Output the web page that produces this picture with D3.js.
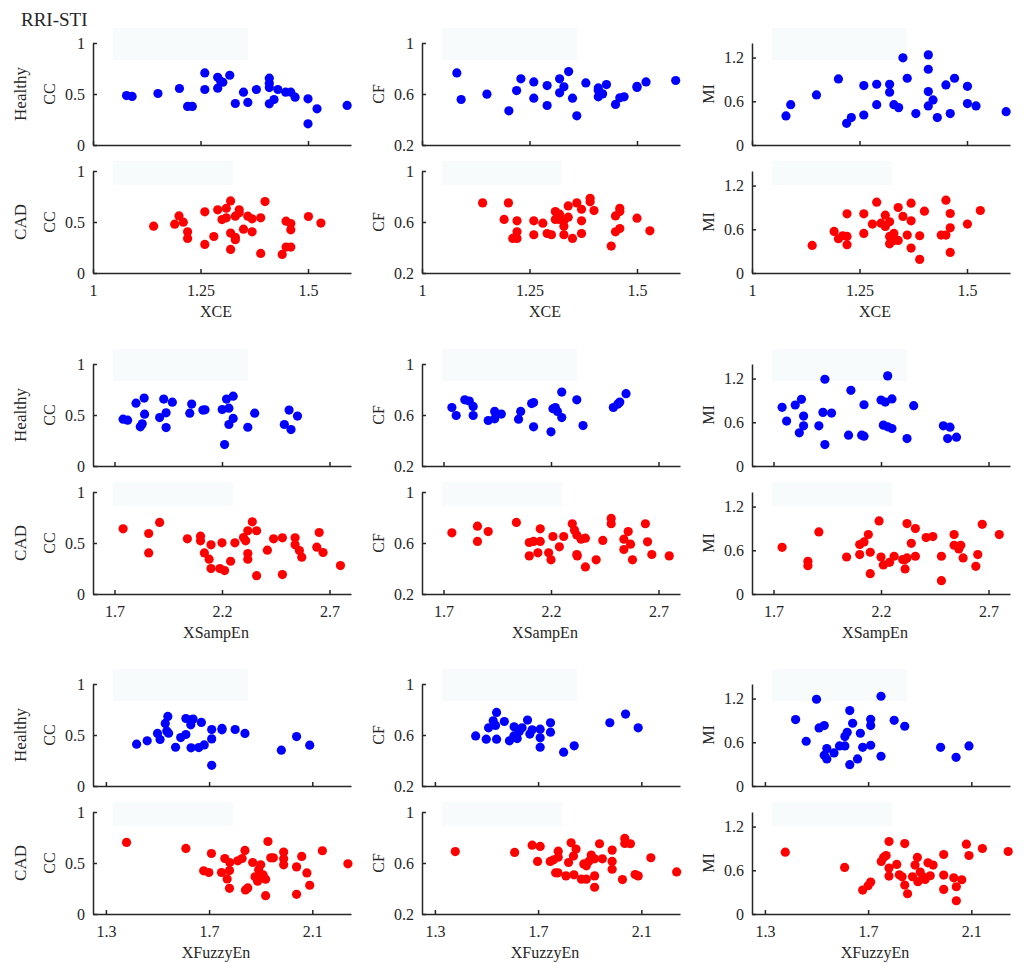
<!DOCTYPE html>
<html>
<head>
<meta charset="utf-8">
<script src="https://d3js.org/d3.v7.min.js"></script>
<style>
  body { margin: 0; background: #fff; }
  text { font-family: "Liberation Serif", "Times New Roman", serif; fill: #262626; }
  .axis path, .axis line { stroke: #262626; stroke-width: 1.5; }
</style>
</head>
<body>
<div id="viz"></div>
<script>
// categories / axis setup
const features = ["XCE", "XSampEn", "XFuzzyEn"];
const metrics = ["CC", "CF", "MI"];
const classes = ["Healthy", "CAD"];
const classColors = ["#0000ff", "#ff0000"];

const featureDomains = [[1, 1.6], [1.6, 2.8], [1.25, 2.25]];
const featureTicks = [[1, 1.25, 1.5], [1.7, 2.2, 2.7], [1.3, 1.7, 2.1]];
const metricDomains = [[0, 1], [0.2, 1], [0, 1.4]];
const metricTicks = [[0, 0.5, 1], [0.2, 0.6, 1], [0, 0.6, 1.2]];

// ---- XCE ----
const xce_cc_healthy = [[1.078,0.485],[1.091,0.476],[1.151,0.505],[1.201,0.554],[1.22,0.378],[1.231,0.378],[1.26,0.707],[1.26,0.544],[1.29,0.664],[1.29,0.557],[1.297,0.625],[1.302,0.615],[1.318,0.684],[1.331,0.407],[1.35,0.518],[1.36,0.417],[1.38,0.544],[1.41,0.655],[1.41,0.606],[1.41,0.563],[1.41,0.404],[1.421,0.446],[1.43,0.544],[1.448,0.518],[1.46,0.518],[1.47,0.469],[1.5,0.453],[1.5,0.208],[1.521,0.355],[1.591,0.388]];
const xce_cc_cad = [[1.141,0.459],[1.19,0.479],[1.2,0.56],[1.21,0.498],[1.22,0.404],[1.22,0.339],[1.26,0.6],[1.26,0.28],[1.281,0.358],[1.29,0.619],[1.3,0.524],[1.31,0.635],[1.31,0.541],[1.32,0.707],[1.32,0.391],[1.32,0.231],[1.331,0.557],[1.331,0.326],[1.331,0.35],[1.34,0.619],[1.34,0.59],[1.35,0.43],[1.36,0.557],[1.37,0.531],[1.37,0.404],[1.39,0.541],[1.39,0.192],[1.4,0.7],[1.44,0.182],[1.449,0.508],[1.449,0.254],[1.46,0.485],[1.46,0.423],[1.46,0.254],[1.501,0.554],[1.53,0.489]];
const xce_cf_healthy = [[1.081,0.765],[1.091,0.557],[1.151,0.599],[1.202,0.468],[1.22,0.627],[1.23,0.719],[1.26,0.695],[1.26,0.567],[1.291,0.666],[1.291,0.51],[1.32,0.719],[1.32,0.609],[1.33,0.656],[1.341,0.776],[1.35,0.567],[1.36,0.429],[1.381,0.687],[1.41,0.648],[1.41,0.63],[1.41,0.578],[1.42,0.601],[1.429,0.674],[1.45,0.518],[1.46,0.57],[1.47,0.578],[1.5,0.651],[1.5,0.66],[1.521,0.695],[1.59,0.706]];
const xce_cf_cad = [[1.141,0.75],[1.191,0.62],[1.201,0.75],[1.211,0.471],[1.221,0.471],[1.221,0.523],[1.221,0.609],[1.26,0.609],[1.26,0.5],[1.281,0.591],[1.291,0.51],[1.301,0.5],[1.31,0.682],[1.31,0.62],[1.32,0.661],[1.32,0.62],[1.33,0.609],[1.33,0.567],[1.33,0.5],[1.34,0.726],[1.34,0.638],[1.35,0.471],[1.36,0.75],[1.371,0.7],[1.371,0.609],[1.371,0.51],[1.391,0.786],[1.391,0.758],[1.4,0.69],[1.44,0.411],[1.45,0.648],[1.45,0.523],[1.46,0.708],[1.46,0.682],[1.46,0.549],[1.5,0.63],[1.53,0.531]];
const xce_mi_healthy = [[1.079,0.399],[1.09,0.554],[1.15,0.687],[1.201,0.907],[1.22,0.298],[1.231,0.376],[1.26,0.815],[1.26,0.412],[1.29,0.834],[1.29,0.554],[1.32,0.834],[1.32,0.724],[1.33,0.554],[1.341,0.513],[1.351,1.196],[1.361,0.916],[1.381,0.431],[1.41,1.237],[1.41,1.04],[1.41,0.733],[1.41,0.536],[1.421,0.618],[1.431,0.376],[1.451,0.825],[1.461,0.431],[1.471,0.916],[1.501,0.806],[1.501,0.568],[1.521,0.536],[1.591,0.458]];
const xce_mi_cad = [[1.14,0.379],[1.191,0.57],[1.201,0.47],[1.211,0.511],[1.221,0.812],[1.221,0.502],[1.221,0.388],[1.26,0.812],[1.26,0.543],[1.28,0.671],[1.29,0.972],[1.3,0.684],[1.31,0.794],[1.31,0.639],[1.32,0.703],[1.32,0.502],[1.32,0.401],[1.33,0.543],[1.33,0.447],[1.34,0.447],[1.34,0.899],[1.351,0.776],[1.361,0.52],[1.37,0.342],[1.37,0.958],[1.37,0.716],[1.39,0.511],[1.39,0.187],[1.401,0.849],[1.44,0.52],[1.451,0.999],[1.451,0.52],[1.461,0.817],[1.461,0.62],[1.461,0.283],[1.501,0.671],[1.531,0.858]];

// ---- XSampEn ----
const xsampen_cc_healthy = [[1.74,0.459],[1.761,0.449],[1.8,0.616],[1.82,0.384],[1.829,0.413],[1.838,0.666],[1.84,0.508],[1.91,0.475],[1.929,0.656],[1.94,0.521],[1.94,0.377],[1.969,0.626],[2.05,0.518],[2.059,0.607],[2.111,0.548],[2.121,0.551],[2.201,0.554],[2.212,0.21],[2.221,0.656],[2.232,0.567],[2.232,0.407],[2.252,0.466],[2.252,0.685],[2.32,0.38],[2.352,0.518],[2.49,0.407],[2.512,0.548],[2.521,0.357],[2.551,0.489]];
const xsampen_cc_cad = [[1.74,0.639],[1.859,0.593],[1.859,0.403],[1.91,0.702],[2.039,0.541],[2.1,0.567],[2.1,0.521],[2.118,0.403],[2.14,0.341],[2.149,0.482],[2.149,0.249],[2.19,0.249],[2.2,0.502],[2.212,0.23],[2.24,0.321],[2.26,0.502],[2.3,0.554],[2.31,0.521],[2.32,0.62],[2.32,0.397],[2.32,0.341],[2.341,0.708],[2.361,0.62],[2.361,0.18],[2.411,0.43],[2.44,0.541],[2.481,0.551],[2.481,0.19],[2.54,0.551],[2.54,0.482],[2.56,0.426],[2.571,0.361],[2.641,0.459],[2.652,0.603],[2.67,0.407],[2.751,0.279]];
const xsampen_cf_healthy = [[1.739,0.659],[1.759,0.596],[1.799,0.719],[1.82,0.709],[1.838,0.667],[1.838,0.596],[1.908,0.557],[1.938,0.628],[1.938,0.57],[1.969,0.607],[2.049,0.567],[2.059,0.628],[2.11,0.69],[2.119,0.698],[2.119,0.507],[2.2,0.468],[2.209,0.649],[2.22,0.659],[2.23,0.628],[2.25,0.78],[2.25,0.58],[2.32,0.719],[2.349,0.517],[2.49,0.659],[2.51,0.685],[2.52,0.701],[2.549,0.767]];
const xsampen_cf_cad = [[1.739,0.68],[1.858,0.732],[1.858,0.612],[1.908,0.69],[2.039,0.761],[2.099,0.604],[2.099,0.499],[2.119,0.612],[2.139,0.523],[2.15,0.612],[2.15,0.711],[2.189,0.523],[2.2,0.468],[2.209,0.651],[2.239,0.57],[2.259,0.651],[2.299,0.751],[2.309,0.701],[2.32,0.662],[2.32,0.51],[2.322,0.499],[2.34,0.63],[2.36,0.638],[2.36,0.412],[2.41,0.468],[2.441,0.62],[2.48,0.793],[2.48,0.751],[2.539,0.63],[2.539,0.549],[2.559,0.69],[2.57,0.591],[2.579,0.468],[2.639,0.751],[2.649,0.609],[2.669,0.51],[2.75,0.499]];
const xsampen_mi_healthy = [[1.74,0.805],[1.761,0.616],[1.801,0.837],[1.82,0.455],[1.83,0.915],[1.84,0.685],[1.84,0.552],[1.911,0.552],[1.93,0.736],[1.939,1.191],[1.939,0.294],[1.97,0.726],[2.049,0.423],[2.06,1.039],[2.11,0.423],[2.121,0.409],[2.121,0.841],[2.2,0.906],[2.211,0.561],[2.22,0.878],[2.231,1.237],[2.231,0.538],[2.251,0.92],[2.251,0.515],[2.321,0.377],[2.352,0.828],[2.49,0.552],[2.521,0.533],[2.51,0.377],[2.551,0.395]];
const xsampen_mi_cad = [[1.74,0.641],[1.86,0.449],[1.86,0.389],[1.911,0.852],[2.04,0.508],[2.101,0.541],[2.101,0.678],[2.121,0.715],[2.141,0.815],[2.15,0.573],[2.15,0.279],[2.191,1.003],[2.2,0.508],[2.211,0.399],[2.24,0.435],[2.261,0.518],[2.301,0.472],[2.312,0.344],[2.312,0.472],[2.321,0.967],[2.321,0.495],[2.341,0.696],[2.36,0.898],[2.36,0.518],[2.41,0.774],[2.441,0.788],[2.481,0.518],[2.481,0.183],[2.54,0.815],[2.54,0.669],[2.562,0.618],[2.571,0.669],[2.582,0.495],[2.65,0.541],[2.641,0.38],[2.671,0.957],[2.75,0.815]];

// ---- XFuzzyEn ----
const xfuzzyen_cc_healthy = [[1.419,0.41],[1.46,0.443],[1.5,0.515],[1.51,0.456],[1.53,0.613],[1.54,0.682],[1.536,0.538],[1.543,0.518],[1.57,0.38],[1.59,0.475],[1.61,0.505],[1.61,0.662],[1.628,0.646],[1.629,0.6],[1.638,0.656],[1.63,0.374],[1.66,0.377],[1.67,0.623],[1.681,0.403],[1.71,0.554],[1.71,0.462],[1.71,0.203],[1.75,0.564],[1.75,0.551],[1.801,0.554],[1.839,0.515],[1.98,0.351],[2.039,0.485],[2.09,0.4]];
const xfuzzyen_cc_cad = [[1.38,0.702],[1.61,0.643],[1.679,0.423],[1.699,0.407],[1.709,0.593],[1.748,0.407],[1.761,0.544],[1.77,0.344],[1.779,0.426],[1.78,0.505],[1.779,0.252],[1.811,0.521],[1.828,0.544],[1.839,0.623],[1.841,0.236],[1.85,0.256],[1.869,0.505],[1.878,0.364],[1.888,0.321],[1.892,0.433],[1.9,0.482],[1.909,0.384],[1.919,0.341],[1.919,0.18],[1.928,0.711],[1.939,0.551],[1.949,0.551],[1.989,0.607],[1.989,0.541],[1.989,0.482],[2.039,0.462],[2.039,0.193],[2.059,0.564],[2.079,0.403],[2.09,0.282],[2.139,0.62],[2.238,0.492]];
const xfuzzyen_cf_healthy = [[1.458,0.593],[1.499,0.567],[1.508,0.656],[1.526,0.711],[1.539,0.777],[1.539,0.567],[1.535,0.675],[1.569,0.706],[1.589,0.554],[1.607,0.664],[1.606,0.593],[1.619,0.572],[1.627,0.628],[1.638,0.656],[1.659,0.717],[1.668,0.607],[1.677,0.641],[1.708,0.646],[1.708,0.578],[1.708,0.504],[1.748,0.696],[1.748,0.622],[1.799,0.465],[1.84,0.515],[1.978,0.696],[2.039,0.764],[2.088,0.656]];
const xfuzzyen_cf_cad = [[1.379,0.69],[1.609,0.683],[1.677,0.74],[1.698,0.612],[1.708,0.73],[1.747,0.612],[1.76,0.625],[1.768,0.523],[1.778,0.693],[1.778,0.646],[1.777,0.523],[1.808,0.499],[1.818,0.604],[1.828,0.759],[1.837,0.654],[1.839,0.507],[1.847,0.709],[1.868,0.473],[1.877,0.593],[1.887,0.473],[1.887,0.578],[1.897,0.614],[1.906,0.662],[1.919,0.499],[1.919,0.41],[1.919,0.633],[1.938,0.751],[1.949,0.633],[1.987,0.701],[1.987,0.612],[1.987,0.551],[2.027,0.47],[2.036,0.793],[2.036,0.753],[2.058,0.751],[2.076,0.51],[2.088,0.499],[2.137,0.641],[2.237,0.53]];
const xfuzzyen_mi_healthy = [[1.419,0.912],[1.46,0.614],[1.5,1.191],[1.51,0.797],[1.53,0.829],[1.54,0.513],[1.53,0.421],[1.54,0.371],[1.568,0.454],[1.589,0.55],[1.61,0.55],[1.61,0.678],[1.619,0.738],[1.629,1.035],[1.629,0.293],[1.64,0.861],[1.659,0.371],[1.67,0.724],[1.679,0.531],[1.71,0.916],[1.71,0.829],[1.71,0.559],[1.75,1.232],[1.75,0.408],[1.801,0.902],[1.842,0.82],[1.981,0.531],[2.041,0.394],[2.091,0.55]];
const xfuzzyen_mi_cad = [[1.379,0.849],[1.609,0.639],[1.679,0.328],[1.7,0.388],[1.71,0.438],[1.751,0.721],[1.76,0.776],[1.77,0.803],[1.781,0.995],[1.781,0.63],[1.781,0.52],[1.811,0.68],[1.821,0.538],[1.832,0.511],[1.842,0.967],[1.842,0.397],[1.853,0.278],[1.872,0.511],[1.882,0.671],[1.891,0.776],[1.893,0.443],[1.902,0.575],[1.912,0.511],[1.921,0.474],[1.932,0.703],[1.941,0.525],[1.952,0.671],[1.993,0.817],[1.993,0.534],[1.993,0.338],[2.032,0.497],[2.042,0.374],[2.042,0.182],[2.063,0.47],[2.081,0.958],[2.091,0.803],[2.143,0.899],[2.243,0.858]];

// lookup [feature][metric][class]
const panelData = [
  [[xce_cc_healthy, xce_cc_cad], [xce_cf_healthy, xce_cf_cad], [xce_mi_healthy, xce_mi_cad]],
  [[xsampen_cc_healthy, xsampen_cc_cad], [xsampen_cf_healthy, xsampen_cf_cad], [xsampen_mi_healthy, xsampen_mi_cad]],
  [[xfuzzyen_cc_healthy, xfuzzyen_cc_cad], [xfuzzyen_cf_healthy, xfuzzyen_cf_cad], [xfuzzyen_mi_healthy, xfuzzyen_mi_cad]]
];

// layout
const W = 1024, H = 973;
const colLeft = [93, 422, 752];
const panelW = 258, panelH = 102;
const groupTop = [43, 364, 684];
const rowGap = 128; // top of CAD panel relative to Healthy panel

const svg = d3.select("#viz")
  .append("svg")
  .attr("width", W)
  .attr("height", H);

svg.append("text")
  .attr("x", 21)
  .attr("y", 26)
  .style("font-size", "19px")
  .text("RRI-STI");

const fmt = d3.format("~g");

// tick text style shared by both axes
function styleTicks(a) {
  a.selectAll("text")
    .style("font-size", "16px")
    .style("font-family", "Liberation Serif")
    .style("fill", "#262626");
}

features.forEach(function (feat, fi) {
  metrics.forEach(function (met, mi) {
    classes.forEach(function (cls, ci) {
      const x0 = colLeft[mi];
      const y0 = groupTop[fi] + ci * rowGap;

      const x = d3.scaleLinear().domain(featureDomains[fi]).range([0, panelW]);
      const y = d3.scaleLinear().domain(metricDomains[mi]).range([panelH, 0]);

      const g = svg.append("g")
        .attr("transform", `translate(${x0},${y0})`);

      // faint leftover legend box
      g.append("rect")
        .attr("x", 20)
        .attr("y", ci === 0 ? -15 : -10)
        .attr("width", ci === 0 ? 135 : 120)
        .attr("height", ci === 0 ? 32 : 24)
        .style("fill", "#f8fbfb");

      // points
      g.selectAll("circle")
        .data(panelData[fi][mi][ci])
        .join("circle")
        .attr("cx", d => x(d[0]))
        .attr("cy", d => y(d[1]))
        .attr("r", 4.6)
        .style("fill", classColors[ci]);

      // x axis (labels only on the CAD row)
      g.append("g")
        .attr("class", "axis")
        .attr("transform", `translate(0,${panelH})`)
        .call(d3.axisBottom(x)
          .tickValues(featureTicks[fi])
          .tickSizeInner(-4)
          .tickSizeOuter(0)
          .tickPadding(12)
          .tickFormat(ci === 1 ? fmt : ""))
        .call(styleTicks);

      // y axis
      g.append("g")
        .attr("class", "axis")
        .call(d3.axisLeft(y)
          .tickValues(metricTicks[mi])
          .tickSizeInner(-4)
          .tickSizeOuter(0)
          .tickPadding(8)
          .tickFormat(fmt))
        .call(styleTicks);

      // y label
      g.append("text")
        .attr("transform", `translate(-44,${panelH / 2}) rotate(-90)`)
        .attr("dy", "0.35em")
        .style("text-anchor", "middle")
        .style("font-size", "16px")
        .text(met);

      // class label on first column
      if (mi === 0) {
        g.append("text")
          .attr("transform", `translate(${20 - x0},${panelH / 2}) rotate(-90)`)
          .attr("dy", "0.35em")
          .style("text-anchor", "middle")
          .style("font-size", "17px")
          .text(cls);
      }

      // x label under CAD row
      if (ci === 1) {
        g.append("text")
          .attr("x", panelW / 2 - 6)
          .attr("y", panelH + 44)
          .style("text-anchor", "middle")
          .style("font-size", "16px")
          .text(feat);
      }
    });
  });
});
</script>
</body>
</html>
